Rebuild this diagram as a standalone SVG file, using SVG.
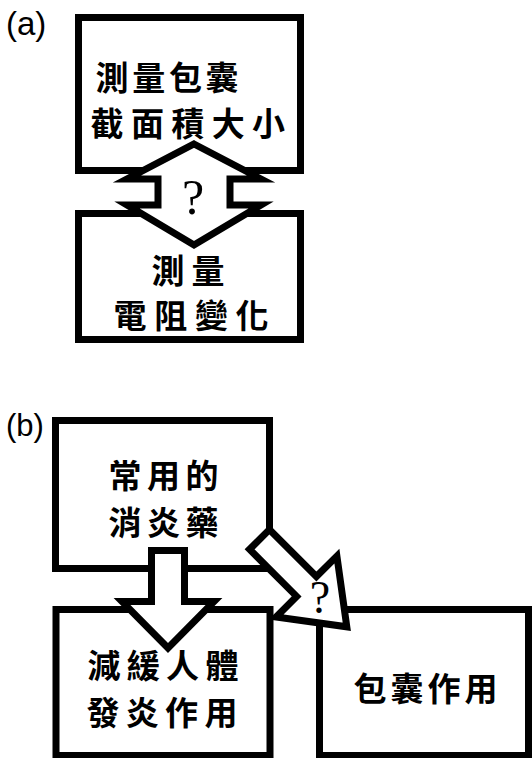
<svg xmlns="http://www.w3.org/2000/svg" width="532" height="758" viewBox="0 0 532 758">
  <style>
    .box { fill: #fff; stroke: #000; stroke-width: 7; }
    .arrow { fill: #fff; stroke: #000; stroke-width: 7; stroke-linejoin: miter; stroke-miterlimit: 10; }
    .cjk { font-family: "Noto Sans CJK TC", "Noto Sans CJK SC", sans-serif; font-size: 33px; font-weight: bold; fill: #000; }
    .lbl { font-family: "Liberation Sans", Arial, sans-serif; fill: #000; }
    .q { font-family: "Liberation Serif", "Times New Roman", serif; fill: #000; text-anchor: middle; }
  </style>
  <rect width="532" height="758" fill="#fff"/>

  <text class="lbl" x="6" y="35" font-size="33">(a)</text>
  <text class="lbl" x="6" y="435.5" font-size="31">(b)</text>

  <g id="a-top">
    <rect class="box" x="78.5" y="17.5" width="222" height="153"/>
    <text class="cjk" x="95.5" y="89.5" letter-spacing="3.7">測量包囊</text>
    <text class="cjk" x="90.5" y="135.5" letter-spacing="7.4">截面積大小</text>
  </g>
  <g id="a-bottom">
    <rect class="box" x="78.5" y="213.5" width="222" height="126"/>
    <text class="cjk" x="151.5" y="283" letter-spacing="7">測量</text>
    <text class="cjk" x="113.5" y="328" letter-spacing="7.7">電阻變化</text>
  </g>

  <g id="b-top">
    <rect class="box" x="55.5" y="420.5" width="214" height="148"/>
    <text class="cjk" x="108.5" y="487.5" letter-spacing="5.5">常用的</text>
    <text class="cjk" x="108.5" y="534.5" letter-spacing="5.5">消炎藥</text>
  </g>
  <g id="b-bottom-left">
    <rect class="box" x="56" y="609.5" width="214" height="146"/>
    <text class="cjk" x="87.5" y="677.5" letter-spacing="6.3">減緩人體</text>
    <text class="cjk" x="86.5" y="724.5" letter-spacing="6.3">發炎作用</text>
  </g>
  <g id="b-right">
    <rect class="box" x="319.5" y="609.5" width="209" height="146"/>
    <text class="cjk" x="353.5" y="700.5" letter-spacing="4">包囊作用</text>
  </g>

  <g id="connectors">
    <polygon class="arrow" points="194,144 261,179 230,179 230,205 261,205 194,245 127,205 158,205 158,179 127,179"/>
    <text class="q" x="193" y="214" font-size="50">?</text>
    <polygon class="arrow" points="151.5,550.5 184.5,550.5 184.5,601.5 214,601.5 168,648 122,601.5 151.5,601.5"/>
    <polygon class="arrow" transform="translate(257,537) rotate(45)" points="3.5,-14 70,-14 70,-43 127,0 70,43 70,14 3.5,14"/>
    <text class="q" x="320" y="613" font-size="46">?</text>
  </g>
</svg>
